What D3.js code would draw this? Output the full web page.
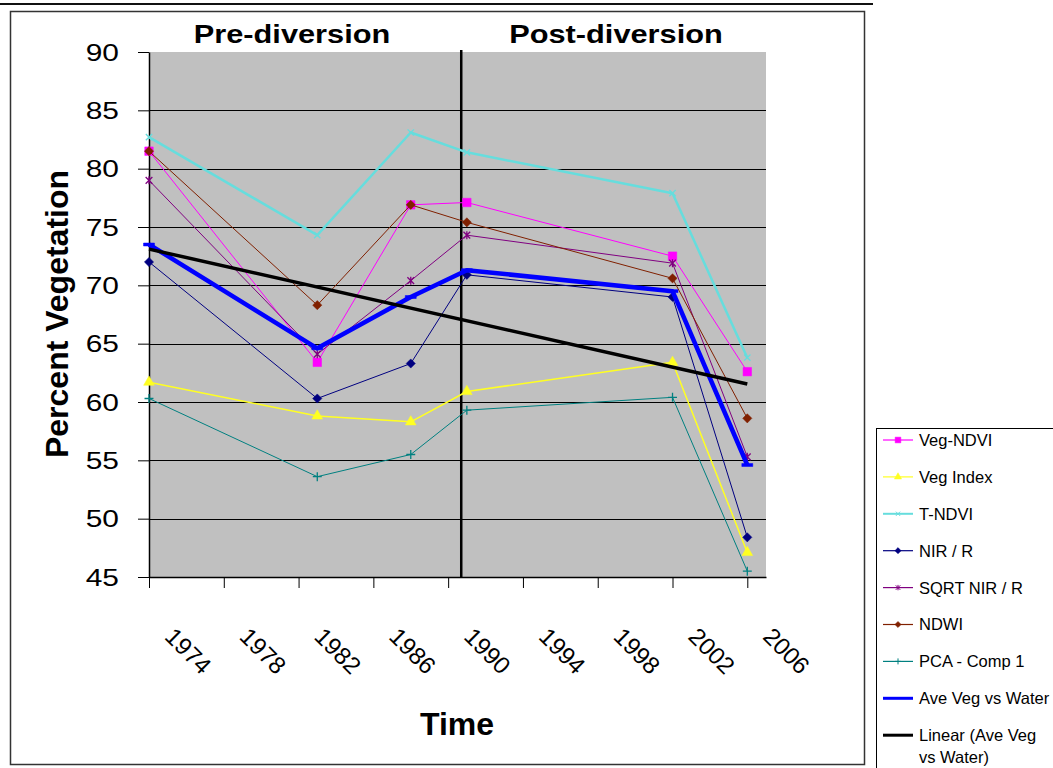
<!DOCTYPE html>
<html>
<head>
<meta charset="utf-8">
<script src="https://cdn.jsdelivr.net/npm/d3@7"></script>
<style>
  html, body { margin: 0; padding: 0; background: #fff; overflow: hidden; }
  svg { display: block; font-family: "Liberation Sans", Arial, sans-serif; }
</style>
</head>
<body>
<svg id="chart" width="1053" height="768"></svg>
<script>
// Survey years and percent-vegetation estimates per method
const years = [1974, 1983, 1988, 1991, 2002, 2006];
const vegNdvi      = [81.5, 63.4, 76.9, 77.1, 72.5, 62.6];
const vegIndex     = [61.7, 58.8, 58.3, 60.9, 63.4, 47.1];
const tNdvi        = [82.7, 74.3, 83.1, 81.4, 77.9, 63.8];
const nirR         = [72.0, 60.3, 63.3, 70.9, 69.0, 48.4];
const sqrtNirR     = [79.0, 64.1, 70.4, 74.3, 71.9, 55.3];
const ndwi         = [81.5, 68.3, 76.9, 75.4, 70.6, 58.6];
const pcaComp1     = [60.3, 53.6, 55.5, 59.3, 60.4, 45.5];
const aveVegWater  = [73.5, 64.6, 69.0, 71.3, 69.5, 54.6];

const seriesNames = ["Veg-NDVI", "Veg Index", "T-NDVI", "NIR / R", "SQRT NIR / R",
                     "NDWI", "PCA - Comp 1", "Ave Veg vs Water"];
const trendName = ["Linear (Ave Veg", "vs Water)"];

const yearTicks = [1974, 1978, 1982, 1986, 1990, 1994, 1998, 2002, 2006];
const valueTicks = [45, 50, 55, 60, 65, 70, 75, 80, 85, 90];
const diversionYear = 1990.7;

// ---- symbols ----
const symPlus = { draw(ctx, size) { const r = Math.sqrt(size) / 2;
  ctx.moveTo(-r, 0); ctx.lineTo(r, 0); ctx.moveTo(0, -r); ctx.lineTo(0, r); } };
const symX = { draw(ctx, size) { const r = Math.sqrt(size) / 2;
  ctx.moveTo(-r, -r); ctx.lineTo(r, r); ctx.moveTo(-r, r); ctx.lineTo(r, -r); } };
const symAsterisk = { draw(ctx, size) { const r = Math.sqrt(size) / 2;
  ctx.moveTo(-r, -r); ctx.lineTo(r, r); ctx.moveTo(-r, r); ctx.lineTo(r, -r);
  ctx.moveTo(0, -r * 1.2); ctx.lineTo(0, r * 1.2); } };
const symDash = { draw(ctx, size) { const r = Math.sqrt(size) / 2;
  ctx.rect(-r, -1.5, 2 * r, 3); } };
const symRhomb = { draw(ctx, size) { const r = Math.sqrt(size) / 2 * 1.3;
  ctx.moveTo(0, -r); ctx.lineTo(r, 0); ctx.lineTo(0, r); ctx.lineTo(-r, 0); ctx.closePath(); } };

const styles = [
  { color: "#FF00FF", width: 1,   type: d3.symbolSquare,   size: 72, fill: true },
  { color: "#FFFF22", width: 1.5, type: d3.symbolTriangle, size: 50, fill: true },
  { color: "#66DDDD", width: 2.5, type: symX,              size: 40, fill: false },
  { color: "#000080", width: 1,   type: symRhomb,          size: 50, fill: true },
  { color: "#800080", width: 1,   type: symAsterisk,       size: 45, fill: false },
  { color: "#802000", width: 1,   type: symRhomb,          size: 50, fill: true },
  { color: "#008080", width: 1,   type: symPlus,           size: 80, fill: false },
  { color: "#0000FF", width: 4.5, type: symDash,           size: 120, fill: true }
];
const seriesValues = [vegNdvi, vegIndex, tNdvi, nirR, sqrtNirR, ndwi, pcaComp1, aveVegWater];
const series = seriesNames.map((name, i) => ({
  name, ...styles[i],
  points: years.map((yr, j) => ({ year: yr, value: seriesValues[i][j] }))
}));

// least-squares trend of the average series
const mx = d3.mean(years), my = d3.mean(aveVegWater);
const slope = d3.sum(years, (x, i) => (x - mx) * (aveVegWater[i] - my)) /
              d3.sum(years, x => (x - mx) * (x - mx));
const trendAt = x => my + slope * (x - mx);
const trendPoints = [years[0], years[years.length - 1]].map(x => ({ year: x, value: trendAt(x) }));

// ---- layout ----
const svg = d3.select("#chart");
const plot = { left: 149, right: 766, top: 52, bottom: 577 };
const x = d3.scaleLinear().domain([1974, 2007]).range([plot.left, plot.right]);
const y = d3.scaleLinear().domain([45, 90]).range([plot.bottom, plot.top]);

// page rule and chart frame
svg.append("line").attr("x1", 0).attr("x2", 873).attr("y1", 4).attr("y2", 4)
  .attr("stroke", "#111").attr("stroke-width", 2);
svg.append("rect").attr("x", 10.5).attr("y", 11.5).attr("width", 854).attr("height", 753)
  .attr("fill", "none").attr("stroke", "#333").attr("stroke-width", 1.5);

// plot area
svg.append("rect").attr("x", plot.left).attr("y", plot.top)
  .attr("width", plot.right - plot.left).attr("height", plot.bottom - plot.top)
  .attr("fill", "#C0C0C0");

// horizontal gridlines
svg.append("g").selectAll("line")
  .data(valueTicks.filter(v => v > 45 && v < 90)).join("line")
  .attr("x1", plot.left).attr("x2", plot.right)
  .attr("y1", d => Math.round(y(d)) + 0.5).attr("y2", d => Math.round(y(d)) + 0.5)
  .attr("stroke", "#000").attr("stroke-width", 1);

// y axis
const yAxis = svg.append("g").attr("transform", `translate(${plot.left},0)`)
  .call(d3.axisLeft(y).tickValues(valueTicks).tickSize(11).tickSizeOuter(0));
yAxis.select(".domain").attr("stroke", "#000").attr("stroke-width", 1.5);
yAxis.selectAll(".tick line").attr("stroke", "#000");
yAxis.selectAll(".tick text")
  .attr("x", 0).attr("dy", "0.36em")
  .attr("transform", "translate(-30,0) scale(1.3,1)")
  .attr("font-family", "Liberation Sans, Arial, sans-serif")
  .attr("font-size", 23).attr("fill", "#000").attr("text-anchor", "end");

// x axis
const xAxis = svg.append("g").attr("transform", `translate(0,${plot.bottom})`)
  .call(d3.axisBottom(x).tickValues(yearTicks).tickSize(11).tickSizeOuter(0).tickFormat(d3.format("d")));
xAxis.select(".domain").attr("stroke", "#000").attr("stroke-width", 1.5);
xAxis.selectAll(".tick line").attr("stroke", "#000");
xAxis.selectAll(".tick text")
  .attr("x", 0).attr("y", 0).attr("dy", 0)
  .attr("transform", "translate(14,61) rotate(45)")
  .attr("font-family", "Liberation Sans, Arial, sans-serif")
  .attr("font-size", 24).attr("fill", "#000").attr("text-anchor", "start");

// pre/post diversion divider
svg.append("line")
  .attr("x1", x(diversionYear)).attr("x2", x(diversionYear))
  .attr("y1", plot.top - 2).attr("y2", plot.bottom)
  .attr("stroke", "#000").attr("stroke-width", 2.5);

// series lines and markers
const line = d3.line().x(d => x(d.year)).y(d => y(d.value));
series.forEach(s => {
  const g = svg.append("g");
  g.append("path").attr("d", line(s.points))
    .attr("fill", "none").attr("stroke", s.color).attr("stroke-width", s.width)
    .attr("stroke-linejoin", "round");
  g.selectAll("path.m").data(s.points).join("path").attr("class", "m")
    .attr("transform", d => `translate(${x(d.year)},${y(d.value)})`)
    .attr("d", d3.symbol().type(s.type).size(s.size))
    .attr("fill", s.fill ? s.color : "none")
    .attr("stroke", s.color).attr("stroke-width", s.fill ? 0.5 : 1.3);
});

// trendline
svg.append("path").attr("d", line(trendPoints))
  .attr("fill", "none").attr("stroke", "#000").attr("stroke-width", 3.5);

// titles
function stretchedText(str, tx, ty, size, sx, weight) {
  svg.append("text")
    .attr("transform", `translate(${tx},${ty}) scale(${sx},1)`)
    .attr("text-anchor", "middle").attr("font-size", size)
    .attr("font-weight", weight).attr("fill", "#000").text(str);
}
stretchedText("Pre-diversion", 292, 43, 25, 1.23, "bold");
stretchedText("Post-diversion", 616, 43, 25, 1.23, "bold");
stretchedText("Time", 457, 735, 32, 1, "bold");
svg.append("text")
  .attr("transform", "translate(68,314) rotate(-90)")
  .attr("text-anchor", "middle").attr("font-size", 32).attr("font-weight", "bold")
  .attr("fill", "#000").text("Percent Vegetation");

// legend
const legend = svg.append("g");
legend.append("rect").attr("x", 876.5).attr("y", 428.5).attr("width", 200).attr("height", 400)
  .attr("fill", "#fff").attr("stroke", "#000").attr("stroke-width", 1);
const legY0 = 440, legStep = 36.9;
series.forEach((s, i) => {
  const ly = legY0 + i * legStep;
  legend.append("line").attr("x1", 883).attr("x2", 913).attr("y1", ly).attr("y2", ly)
    .attr("stroke", s.color).attr("stroke-width", i === 7 ? 3 : Math.max(1.2, s.width * 0.8));
  if (i < 7) {
    legend.append("path").attr("transform", `translate(898,${ly})`)
      .attr("d", d3.symbol().type(s.type).size(s.size * 0.45))
      .attr("fill", s.fill ? s.color : "none").attr("stroke", s.color)
      .attr("stroke-width", s.fill ? 0.5 : 1);
  }
  legend.append("text").attr("x", 919).attr("y", ly).attr("dy", "0.36em")
    .attr("font-size", 16.5).attr("fill", "#000").text(s.name);
});
const trendY = legY0 + 8 * legStep;
legend.append("line").attr("x1", 883).attr("x2", 913).attr("y1", trendY).attr("y2", trendY)
  .attr("stroke", "#000").attr("stroke-width", 3);
legend.append("text").attr("x", 919).attr("y", trendY).attr("dy", "0.36em")
  .attr("font-size", 16.5).attr("fill", "#000")
  .selectAll("tspan").data(trendName).join("tspan")
  .attr("x", 919).attr("dy", (d, i) => i === 0 ? "0.36em" : "1.3em").text(d => d);
</script>
</body>
</html>
